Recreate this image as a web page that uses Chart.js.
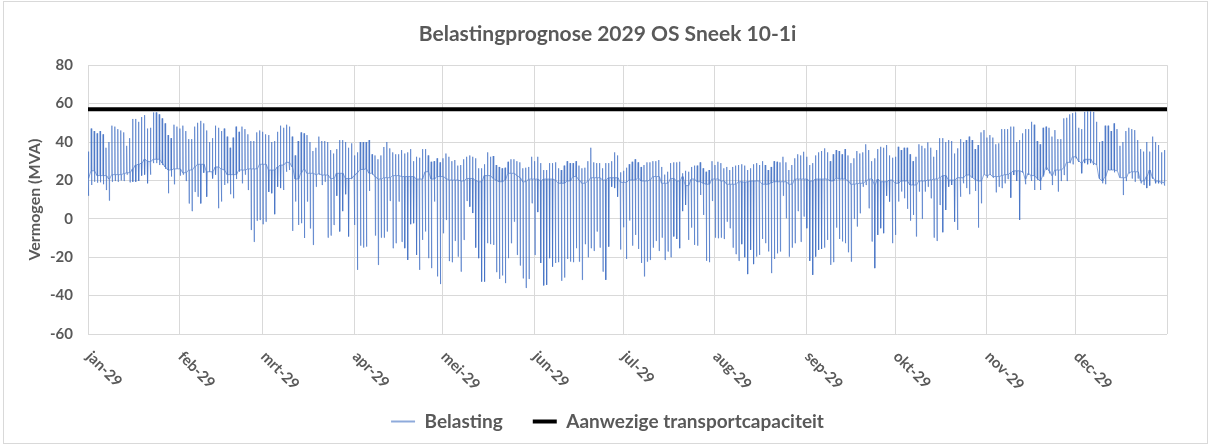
<!DOCTYPE html>
<html>
<head>
<meta charset="utf-8">
<script src="https://cdn.jsdelivr.net/npm/chart.js@4.4.1/dist/chart.umd.min.js"></script>
<style>
  html, body { margin: 0; padding: 0; background: #fff; }
  #wrap { width: 1211px; height: 445px; position: relative; }
</style>
</head>
<body>
<div id="wrap"><canvas id="myChart"></canvas></div>
<script>
// month starts as day-of-year (2029, no leap day)
const monthStarts = [0, 31, 59, 90, 120, 151, 181, 212, 243, 273, 304, 334];
const monthLabels = ['jan-29', 'feb-29', 'mrt-29', 'apr-29', 'mei-29', 'jun-29',
  'jul-29', 'aug-29', 'sep-29', 'okt-29', 'nov-29', 'dec-29'];
const yTicks = [-60, -40, -20, 0, 20, 40, 60, 80];

const capacity = 57; // Aanwezige transportcapaciteit (MVA)

// daily peak load (MVA)
const dayMax = [
  35,47,45.7,44.5,45.7,44,37,40,48.5,48,46.7,46,45,38,42,52,52,50.5,53,54,47,47.4,55.4,55.4,54.4,52.3,49.7,43.6,42,49,48,
  47,48.5,45.7,41.5,41.5,48,50,51,49.7,46,40,42,48.5,47.4,45.7,47,42.8,37,42.3,48,45.3,48,46.7,44,40.5,40.5,45,46,45.3,44,
  43.6,40,40.5,45.3,48.5,47.4,49,48,42.8,33,40.5,45,44.5,43.6,40,35.3,37,42.8,40.5,40.5,40,35.8,34,36.3,41,41,40,37,39.3,33,34.6,40,40,
  40,41,33.6,33,31,33,37.4,40,36.7,34.6,33.6,33.6,35.8,34,34.6,36.3,30,32.3,31.8,36.3,36.3,33,29.7,30,31.5,29.4,31.5,34,32.3,30,30.6,27.7,
  28,31,32.3,33,32.3,31.5,26.3,26.3,28.4,34.6,32.3,32.7,28,27,26.3,26.6,29.7,31,31,30,29.4,26.3,26.6,27,32.3,30,32.3,29,25.4,25.4,29,29,
  29.4,26.3,25.4,27.7,30,29,29,30,27.7,26.3,26.6,30,37,29.4,29,29,26.3,29,29,30,34.6,33,24.2,25,26.6,28.4,29.7,31,29.4,27,28,29.4,
  29.4,30,30,30.6,27,23,24.5,29,29.4,29.4,29.7,23.7,25,24.5,27,27.7,27.7,29.4,26.3,24.5,25.4,30,28,29.7,29,26.3,27,25.4,27,27.7,28,28.4,
  27.7,25.4,26.3,28.4,29,28,30,28,25.4,27,30,29.7,29.4,32.3,29.4,25.4,28,31.5,33.6,33,34.9,32.3,28,29,33,34.6,35.3,36.7,34.6,30,33.6,35.8,
  35.3,33.6,36.3,33,29,31.5,35.3,34,34.6,38.8,35.8,30,31.5,36.3,37.5,37,38.4,33,31.8,32.3,37.5,35.8,37,37,33.6,30,32.3,38.8,38,36.7,39.8,37,
  32.3,35.8,42,42,40,41,40.5,34,36.7,41.5,40,41,42.8,41,36.3,38.4,45,46.2,42.3,43.6,42.3,38.8,39.3,46.7,46.7,46.7,48,48,40,41,44.5,46.7,
  46.7,50.5,49,40.5,38.8,47.4,48,47.4,42.8,46.2,41.5,41.5,52.3,52.6,54.4,55,55.4,47.4,46.7,55.7,56,56,55.7,50.5,40,40.5,48.5,48.5,45.7,49.7,
  46.7,38,40,45.7,47.4,46.7,46.2,41,36.3,35,40,35,42.8,40,38.4,34.6,35.8
];

// daily lowest load (MVA), negative = feed-in
const dayMin = [
  12,17.6,19.3,18.8,19,18,15,9.5,19.3,19.7,19.3,20,19.7,23,19,19.3,19.3,19.7,22.5,23,18.5,23,29,29,28,28,26,13.3,22,18,26,
  22.5,23,19.7,8,4,14,11.5,8,24,11.5,24.5,21,23,5.5,9,17.6,18.5,12.8,10.7,20.7,24.5,18.5,23,15,-5.8,-12,-1,-0.6,-2.8,-1.5,
  14,13.3,2.4,16.7,16,15,24.5,25.4,-6.3,9,-3.2,-2.3,-10,9,-5,-13.6,16.7,23,17.6,19.3,-9.8,-8.7,-3.2,12,-6.6,4,12.8,-9.2,20.7,-3.2,-26.6,-14,-15,
  -14.5,14.5,23,-8.7,-24,-9.8,-9.8,-6.6,9.3,-15.3,-12.7,9,-12,-15.3,-21.4,-2.8,-2.3,-18.8,-26.6,-11,-6.6,-20.5,-25.7,9,-30,-34,-7.5,-0.6,-22,-22.6,-11.5,-19.7,
  -27.5,-11,9.3,6.3,3,-15,-20.5,-32.7,-32.7,-12.7,-13.2,-13.6,-27.8,-31.3,-29.5,-33.5,-20.5,-12.7,-1.5,-18.8,-24.3,-31,-36,-31.3,8.1,-18.8,3.5,-23,-34.7,-34.4,-20.5,-24.9,
  -23,-22.6,-32.3,-30.6,-20.9,-22.3,-22.6,-15.3,-22.3,-31.8,-13.2,-20,-15.3,-16.7,-6.6,-15,-27.5,-31.8,-14.5,16.7,16,11.5,-16,-4.4,-20.9,-0.9,-14,-8.4,-15.7,-23,-30,-22.3,
  -21.4,-15,-11.5,-16.7,-9.8,-21.4,-17,-20,-9.2,-10.5,-15.3,4,7.2,-11,-4.6,-13.6,-14,12.4,2,-21.9,-22.6,9.3,-9.8,-10.1,-9.8,-10.5,-1.5,-4.9,-15,-18.4,-21.9,-13.2,
  -20,-28.8,-16.2,-23.6,-19.7,-18.8,-10.5,-12.7,-17,-28.3,-20.9,-18,-17,12,0.3,-19.7,-15,-12.7,4,-12,1.2,-4.9,-21.9,-29.2,-19.7,-16.2,-15.7,-15,-11,-24,-22.6,-4.6,
  -10.5,-11.8,-12.7,-17.4,-22.3,0,-4,2.9,16.7,17.6,5.5,-11.8,-25.7,-8.4,-4.9,-7.5,12,9,-12.7,-8.4,9,14.2,10.7,5.2,-1,2,-9.2,14.2,0,14.2,16.7,10.7,
  -9.8,-11.5,7.2,-7,4.6,16.7,17.6,-1.5,-5.8,11.5,18.5,16,12.8,21.4,14.5,-4.6,8.1,23,21.4,22.8,21.4,13.8,16.7,16,18.5,20.7,11,22.8,19.7,-0.6,24.2,18,
  22.8,19.7,15,20.2,15,22,25.4,23.7,17.6,22.5,14.2,19.7,22.8,19.7,29,28.4,31.5,29.7,23.7,29,28.4,29,28,28,20.7,18.5,18,25.4,25.4,24.2,
  25,21.4,12.4,19.7,23.7,21,19.3,21,18.5,17.6,16,17.3,21,18.5,18.5,18,17.3
];

// night-time base level per day (the short flat dash)
const dayBase = [
  21,25,25,22.5,22.5,22.5,22.5,20.7,23,23,23,23,23.5,24,24,26,28,28.4,29,31,30,29.7,31,31,31,29,27,25.4,25.4,26,26,
  26,24,24,25.4,25.4,27,28.4,28.4,28.4,24.5,24.5,24.5,27,27,26,25.4,23,23,23,23,25.4,25.4,25.4,26,26,26,26,28.4,28.4,28.4,
  25.4,25.4,25.4,27,28,28,29.4,29.4,27,20.7,20.7,24,26,23.7,23.7,23.7,23,23.5,22.8,22.8,22.8,21,21,23.7,23.7,23.7,21,21,21,22.5,24,25.7,25.7,
  26,23.7,23.7,22,20.7,20.7,21.4,21.4,21.4,22.5,22.5,22.5,22,22,22,22,22,20.7,20.7,20.7,24.5,24.5,20.7,20.7,22,22,22,21,20.2,20.2,20.2,20.2,
  19.7,19.7,21,21,21,20,19.3,19.3,22.5,22.5,22.5,21,20,19.3,19.3,20.2,23.7,23.7,23.7,22.5,21.4,19.3,19.3,20.7,20.7,20.7,20.7,19.7,20.7,20.7,20.7,20.7,
  20.2,18.5,18.5,18.5,19.7,19.7,22,22,20.2,18.5,18.5,19.7,21.4,21.4,21.4,21.4,20.2,20.2,21.4,21.4,21.4,21.4,19,19,19,20.2,20.2,20.2,21.4,19.7,19.7,19.7,
  20.2,22,22,22,18.5,18.5,18.5,21,21,19.7,19.7,22,17.3,17.3,20.7,20.7,19.3,19.3,18.5,18,18,20.7,20.7,20.7,19.7,19.7,18,18,18,18,19.3,19.3,
  19,19.3,19.7,19.7,19.7,19.7,18,18,18,18.7,19.3,19.3,19.3,19.3,19.3,18,18,20.7,20.7,20.7,20.7,20.7,19.7,19.7,20.7,20.7,20.7,20.7,20.7,19.7,19.7,21.4,
  20.7,20.7,20.7,19.7,18,18,18.3,18.5,18.5,19.5,20.7,20.7,17.6,20.7,19.3,19.3,19.3,20.2,20.2,18.5,18.5,19.7,19.7,19.7,17.6,17.6,17.6,19.7,19.7,19.7,20.2,20.2,
  20.7,20.7,21.5,22.5,22.5,20.2,20.2,20.2,21.4,21.4,21.4,22.8,22.8,21.4,20.5,19.7,19.7,23,22.5,23,22,22,22,22.5,23,23,24,25,25,25,24.5,20.7,
  23.7,22.5,22.5,21,19.7,22.8,27,25,22.5,25.4,25.4,25.4,26.6,29.4,29.4,32.3,32.3,30,29,31,31,31,29,28.4,21,19.7,22,25.4,25.4,25.4,
  25,21.4,21.4,21.4,24,24.5,24.5,24.5,19.7,19.7,22,25.4,21.5,19.7,19.7,19,19
];

const textGrey = '#595959';
const gridGrey = '#d9d9d9';
Chart.defaults.font.family = "Lato, 'Open Sans', sans-serif";

// one day = base -> peak -> low -> base, then flat until the next day
let belasting = [];
for (let d = 0; d < dayMax.length; d++) {
  belasting.push({ x: d, y: dayBase[d] });
  belasting.push({ x: d + 0.08, y: dayMax[d] });
  belasting.push({ x: d + 0.22, y: dayMin[d] });
  belasting.push({ x: d + 0.3, y: dayBase[d] });
}

const capLine = [{ x: 0, y: capacity }, { x: 365, y: capacity }];

// white background + thin outer frame like the Excel chart
const chartFrame = {
  id: 'chartFrame',
  beforeDraw(chart) {
    const c = chart.ctx;
    c.save();
    c.fillStyle = '#fff';
    c.fillRect(0, 0, chart.width, chart.height);
    c.strokeStyle = gridGrey;
    c.lineWidth = 1;
    c.strokeRect(3.5, 1.5, chart.width - 7, chart.height - 3);
    c.restore();
  }
};

// month labels, turned 45 degrees clockwise under the axis
const monthTickLabels = {
  id: 'monthTickLabels',
  afterDraw(chart) {
    const xs = chart.scales.x;
    const c = chart.ctx;
    c.save();
    c.font = 'bold 15px Lato';
    c.fillStyle = textGrey;
    c.textAlign = 'left';
    c.textBaseline = 'middle';
    monthStarts.forEach((m, i) => {
      const px = xs.getPixelForValue(m);
      c.save();
      c.translate(px + 1, xs.top + 20);
      c.rotate(Math.PI / 4);
      c.fillText(monthLabels[i], 0, 0);
      c.restore();
    });
    c.restore();
  }
};

const ctx = document.getElementById('myChart').getContext('2d');

const config = {
  type: 'line',
  data: {
    datasets: [
      {
        label: 'Belasting',
        data: belasting,
        borderColor: 'rgba(68,114,196,0.8)',
        backgroundColor: 'rgba(68,114,196,0.8)',
        borderWidth: 0.8,
        pointRadius: 0,
        pointStyle: 'line',
        tension: 0,
        fill: false
      },
      {
        label: 'Aanwezige transportcapaciteit',
        data: capLine,
        borderColor: '#000000',
        backgroundColor: '#000000',
        borderWidth: 4,
        pointRadius: 0,
        pointStyle: 'line',
        fill: false
      }
    ]
  },
  options: {
    responsive: true,
    maintainAspectRatio: false,
    animation: false,
    events: [],
    layout: { padding: { left: 8, right: 4, top: 12, bottom: 4 } },
    plugins: {
      title: {
        display: true,
        text: 'Belastingprognose 2029 OS Sneek 10-1i',
        color: textGrey,
        font: { size: 21, weight: 'bold' },
        padding: { top: 10, bottom: 18 }
      },
      legend: {
        position: 'bottom',
        labels: {
          usePointStyle: true,
          pointStyleWidth: 24,
          padding: 30,
          color: textGrey,
          font: { size: 19, weight: 'bold' },
          generateLabels: (chart) => {
            const items = Chart.defaults.plugins.legend.labels.generateLabels(chart);
            // the legend sample of the thin series is drawn a bit heavier, like Excel
            items[0].lineWidth = 2;
            items[0].strokeStyle = '#8eaadb';
            return items;
          }
        }
      },
      tooltip: { enabled: false }
    },
    scales: {
      x: {
        type: 'linear',
        min: 0,
        max: 365,
        afterBuildTicks: (scale) => {
          scale.ticks = monthStarts.concat([365]).map((v) => ({ value: v }));
        },
        ticks: { display: false },
        grid: { color: gridGrey, drawTicks: false },
        border: { display: false },
        afterFit: (scale) => { scale.height = 48; }
      },
      y: {
        min: yTicks[0],
        max: yTicks[yTicks.length - 1],
        afterBuildTicks: (scale) => {
          scale.ticks = yTicks.map((v) => ({ value: v }));
        },
        ticks: {
          color: textGrey,
          padding: 15,
          font: { size: 15, weight: 'bold' }
        },
        grid: { color: gridGrey, drawTicks: false },
        border: { display: false },
        title: {
          display: true,
          text: 'Vermogen (MVA)',
          color: textGrey,
          font: { size: 16, weight: 'bold' },
          padding: { top: 17, bottom: 0 }
        },
        afterFit: (scale) => { scale.width = 80; }
      },
      // empty right-hand margin so the plot stops where the Excel plot stops
      yRight: {
        position: 'right',
        min: yTicks[0],
        max: yTicks[yTicks.length - 1],
        ticks: { display: false },
        grid: { display: false },
        border: { display: false },
        afterFit: (scale) => { scale.width = 40; }
      }
    }
  },
  plugins: [chartFrame, monthTickLabels]
};

const myChart = new Chart(ctx, config);
</script>
</body>
</html>
